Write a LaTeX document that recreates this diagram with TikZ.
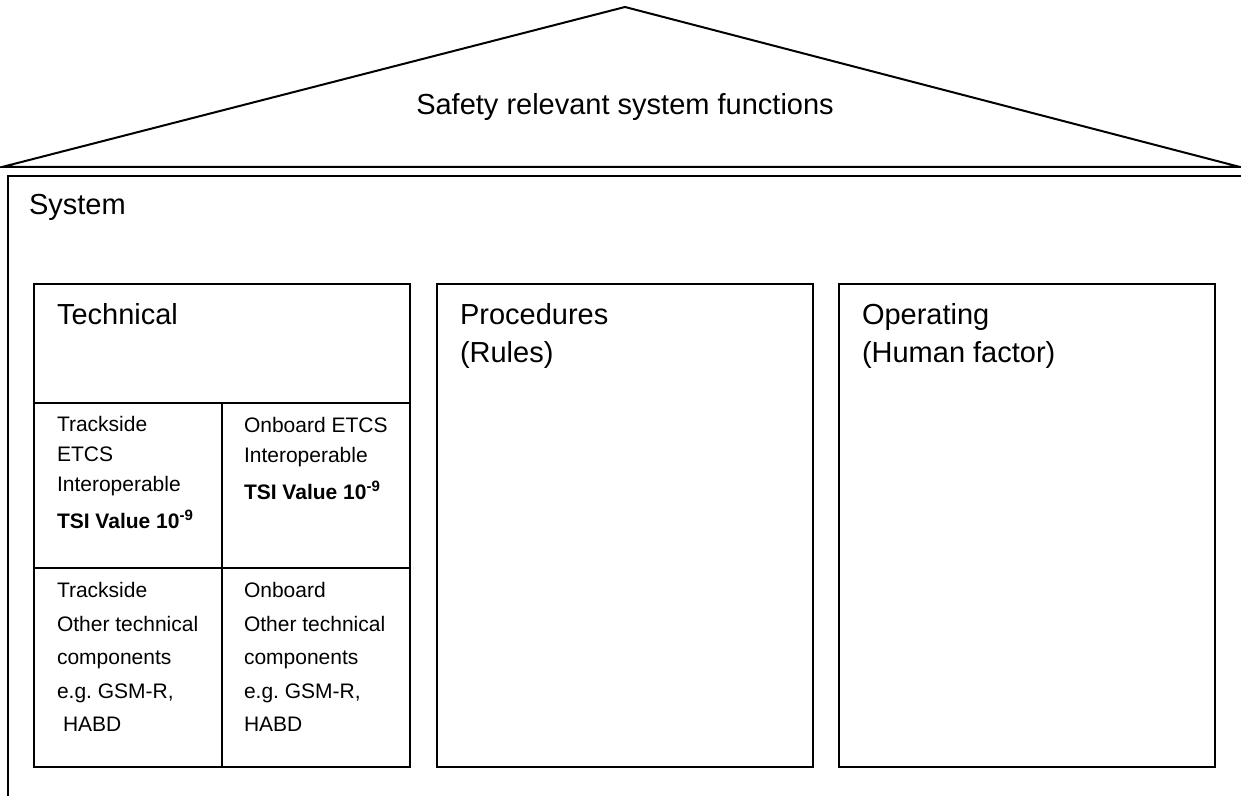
\documentclass[tikz,border=0pt]{standalone}
\usepackage{fontspec}
\setmainfont{Liberation Sans}
\usetikzlibrary{positioning}
\frenchspacing
\newcommand{\tsivalue}{\textbf{TSI Value 10\raisebox{8bp}{\fontsize{15bp}{15bp}\selectfont -9}}}

\begin{document}
\begin{tikzpicture}[line join=miter,
  box/.style={draw,rectangle,inner sep=0pt},
  big/.style={font=\fontsize{29bp}{38bp}\selectfont,align=left,inner sep=0pt},
  small/.style={font=\fontsize{21bp}{30bp}\selectfont,align=left,inner sep=0pt},
  lower/.style={font=\fontsize{21bp}{33.5bp}\selectfont,align=left,inner sep=0pt}]
\pgfsetlinewidth{2bp}
\pgfsetcolor{black}
\useasboundingbox (0bp,0bp) rectangle (1241bp,796bp);

% Roof
\coordinate (rl) at (2bp,629bp);
\coordinate (rt) at (625bp,789bp);
\coordinate (rr) at (1240bp,629bp);
\draw (rl) -- (rt) -- (rr) -- cycle;
\draw (625bp,681bp) node[big,anchor=base] (roof) {Safety relevant system functions};

% System (runs on past the right and lower edge)
\coordinate (sr) at (1241bp,620bp);
\coordinate (sl) at (8bp,620bp);
\coordinate (sb) at (8bp,0bp);
\draw (sr) -- (sl) -- (sb);
\draw (28bp,581bp) node[big,anchor=base west] (system) {System};

% Node: tech
\node[box,minimum width=376bp,minimum height=483bp] (tech) at (222bp,270.5bp) {};
\coordinate (hd) at (0bp,393bp);
\coordinate (md) at (0bp,228bp);
\draw (tech.west |- hd) -- (tech.east |- hd);
\draw (tech.west |- md) -- (tech.east |- md);
\draw (tech.south |- hd) -- (tech.south);
\draw (56bp,471bp) node[big,anchor=base west] (techT) {Technical};

% Cells of tech (base = last line)
\draw (56bp,267bp) node[small,anchor=base west] (trackETCS) {Trackside\\ETCS\\Interoperable\\[7.5bp]\tsivalue};
\draw (243bp,296bp) node[small,anchor=base west] (onbETCS) {Onboard ETCS\\Interoperable\\[7.5bp]\tsivalue};
\draw (56bp,64bp) node[lower,anchor=base west] (trackOther) {Trackside\\Other technical\\components\\e.g. GSM-R,\\\hspace*{6bp}HABD};
\draw (243bp,64bp) node[lower,anchor=base west] (onbOther) {Onboard\\Other technical\\components\\e.g. GSM-R,\\HABD};

% Node: proc
\node[box,minimum width=376bp,minimum height=483bp] (proc) at (625bp,270.5bp) {};
\draw (459bp,433bp) node[big,anchor=base west] (procT) {Procedures\\(Rules)};

% Node: oper
\node[box,minimum width=376bp,minimum height=483bp] (oper) at (1027bp,270.5bp) {};
\draw (861bp,433bp) node[big,anchor=base west] (operT) {Operating\\(Human factor)};
%
\end{tikzpicture}
\end{document}
